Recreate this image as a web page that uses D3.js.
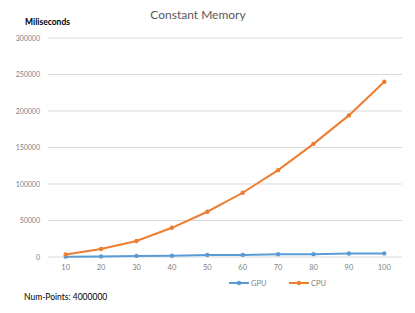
<!DOCTYPE html>
<html>
<head>
<meta charset="utf-8">
<script src="https://cdn.jsdelivr.net/npm/d3@7"></script>
<style>
  body { margin: 0; background: #fff; }
  text { font-family: Lato, "Open Sans", sans-serif; }
</style>
</head>
<body>
<div id="chart"></div>
<script>
var categories = ['10', '20', '30', '40', '50', '60', '70', '80', '90', '100'];
var gpu = [500, 800, 1500, 1700, 2800, 2900, 3800, 3900, 4800, 4900];
var cpu = [3500, 11000, 22000, 40000, 62000, 88000, 119000, 155000, 194000, 240000];
var yTicks = [0, 50000, 100000, 150000, 200000, 250000, 300000];

var width = 415, height = 313;
var plotLeft = 48, plotRight = 402, plotTop = 38, plotBottom = 257;

var svg = d3.select('#chart').append('svg')
    .attr('width', width)
    .attr('height', height);

var x = d3.scaleBand().domain(categories).range([plotLeft, plotRight]);
var y = d3.scaleLinear().domain([0, 300000]).range([plotBottom, plotTop]);

// gridlines
svg.append('g').selectAll('line')
    .data(yTicks)
    .enter().append('line')
    .attr('x1', plotLeft).attr('x2', plotRight)
    .attr('y1', d => y(d)).attr('y2', d => y(d))
    .attr('stroke', '#d9d9d9')
    .attr('stroke-width', 1);

// y tick labels
svg.append('g').selectAll('text')
    .data(yTicks)
    .enter().append('text')
    .attr('x', 40)
    .attr('y', d => y(d) + 2.5)
    .attr('text-anchor', 'end')
    .style('font-size', '7px')
    .style('fill', '#7f7f7f')
    .text(d => d);

// x tick labels
svg.append('g').selectAll('text')
    .data(categories)
    .enter().append('text')
    .attr('x', d => x(d) + x.bandwidth() / 2)
    .attr('y', 270)
    .attr('text-anchor', 'middle')
    .style('font-size', '7.5px')
    .style('fill', '#7f7f7f')
    .text(d => d);

var line = d3.line()
    .x((d, i) => x(categories[i]) + x.bandwidth() / 2)
    .y(d => y(d));

function series(data, color) {
    svg.append('path')
        .datum(data)
        .attr('d', line)
        .attr('fill', 'none')
        .attr('stroke', color)
        .attr('stroke-width', 2);
    svg.append('g').selectAll('circle')
        .data(data)
        .enter().append('circle')
        .attr('cx', (d, i) => x(categories[i]) + x.bandwidth() / 2)
        .attr('cy', d => y(d))
        .attr('r', 2.2)
        .attr('fill', color);
}

series(gpu, '#5b9bd5');
series(cpu, '#ed7d31');

// title
svg.append('text')
    .attr('x', 198).attr('y', 19)
    .attr('text-anchor', 'middle')
    .style('font-size', '12px')
    .style('fill', '#595959')
    .text('Constant Memory');

svg.append('text')
    .attr('x', 25).attr('y', 25)
    .style('font-size', '8.5px')
    .style('font-weight', 'bold')
    .style('fill', '#000')
    .text('Miliseconds');

// legend
var legend = [{name: 'GPU', color: '#5b9bd5', x: 229}, {name: 'CPU', color: '#ed7d31', x: 289}];
var lg = svg.append('g').selectAll('g')
    .data(legend)
    .enter().append('g');
lg.append('line')
    .attr('x1', d => d.x).attr('x2', d => d.x + 20)
    .attr('y1', 283).attr('y2', 283)
    .attr('stroke', d => d.color)
    .attr('stroke-width', 2);
lg.append('circle')
    .attr('cx', d => d.x + 10).attr('cy', 283)
    .attr('r', 2.2)
    .attr('fill', d => d.color);
lg.append('text')
    .attr('x', d => d.x + 22).attr('y', 286)
    .style('font-size', '7.5px')
    .style('fill', '#7f7f7f')
    .text(d => d.name);

svg.append('text')
    .attr('x', 24).attr('y', 300)
    .style('font-size', '8.5px')
    .style('fill', '#000')
    .text('Num-Points: 4000000');
</script>
</body>
</html>
